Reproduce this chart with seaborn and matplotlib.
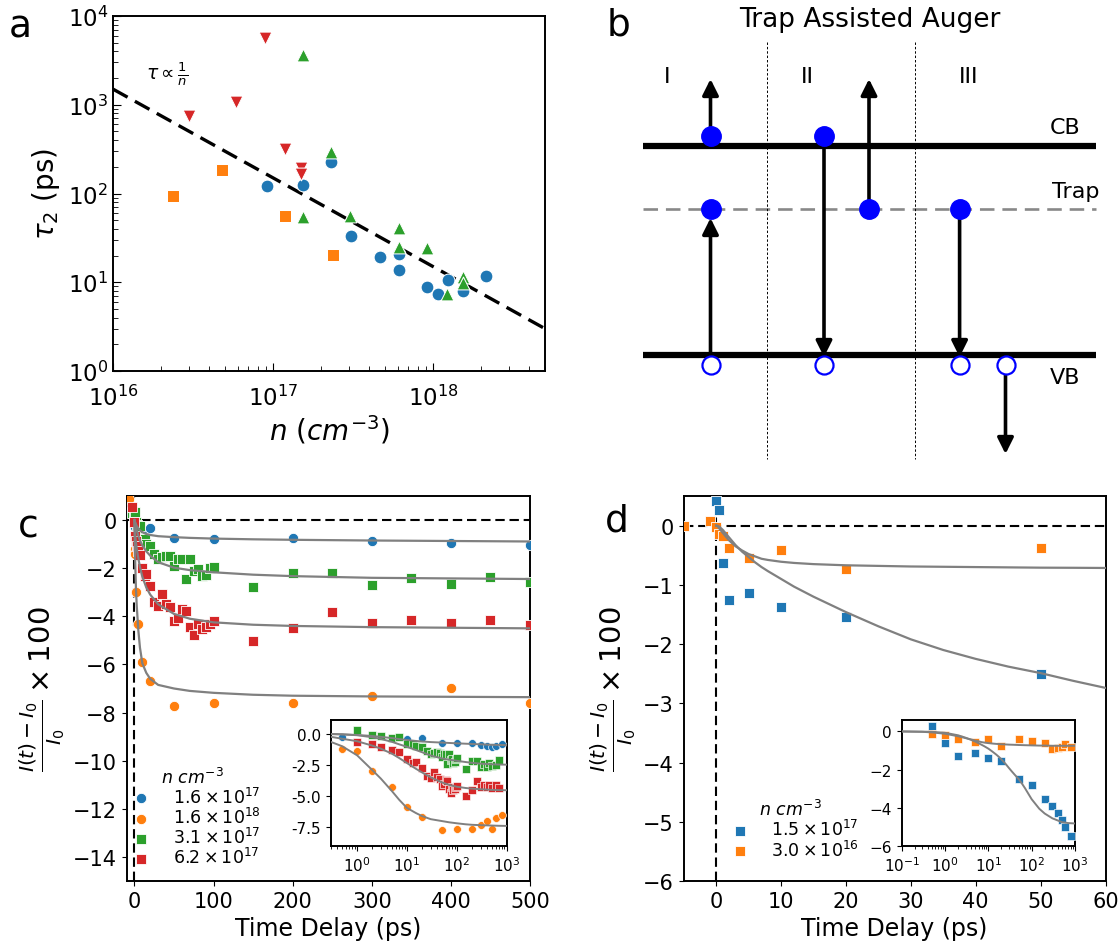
import numpy as np
import pandas as pd
import matplotlib
matplotlib.use("Agg")
import matplotlib.pyplot as plt
import seaborn as sns
from matplotlib.ticker import MultipleLocator, LogLocator, NullFormatter

plt.rcParams['font.family'] = ['DejaVu Sans']
plt.rcParams['mathtext.fontset'] = 'dejavusans'
plt.rcParams['axes.linewidth'] = 1.4

C_BLUE, C_ORANGE, C_GREEN, C_RED = '#1f77b4', '#ff7f0e', '#2ca02c', '#d62728'
FIT_GRAY = '#808080'

# ---------------- Panel a data ----------------
a_blue_n = [9.2e16, 1.53e17, 2.29e17, 3.05e17, 4.64e17, 6.1e17, 6.1e17, 9.2e17, 1.07e18, 1.23e18, 1.53e18, 2.14e18]
a_blue_tau = [122, 126, 228, 33, 19.3, 20.9, 13.9, 8.8, 7.45, 10.5, 8.05, 11.8]
a_orange_n = [2.38e16, 4.77e16, 1.19e17, 2.36e17]
a_orange_tau = [93, 183, 56, 20.2]
a_green_n = [1.53e17, 2.29e17, 1.53e17, 3.04e17, 6.1e17, 6.1e17, 9.2e17, 1.22e18, 1.53e18, 1.53e18]
a_green_tau = [3630, 290, 54.6, 56, 41, 25, 24.4, 7.45, 11.5, 9.7]
a_red_n = [8.9e16, 3.0e16, 5.9e16, 1.19e17, 1.5e17, 1.5e17]
a_red_tau = [5600, 750, 1080, 316, 195, 168]
a_line_n = [1e16, 5e18]
a_line_tau = [1500, 3]

# ---------------- Panel b (diagram) ----------------
b_level_x = [83, 536]
b_cb_y, b_trap_y, b_vb_y = 146.7, 210, 355.7
b_div_x = [207, 355]
b_div_y = [43, 460]
b_filled_x = [150.5, 150.5, 264, 309, 399.6]
b_filled_y = [136.7, 210, 136.7, 210, 210]
b_open_x = [150.5, 264, 399.6, 445.5]
b_open_y = [366, 366, 366, 366]
b_arrow_start = [(150.5, 137), (150.5, 356), (264, 140), (309, 210), (399.6, 210), (445.5, 372)]
b_arrow_end = [(150.5, 80), (150.5, 219), (264, 358), (309, 80), (399.6, 358), (445.5, 455)]
b_roman = ['I', 'II', 'III']
b_roman_x = [107.5, 247, 408.6]

# ---------------- Panel c data ----------------
c_blue_t = [-7, 0.5, 10, 20, 50, 100, 200, 300, 400, 500, 600, 800]
c_blue_y = [0.35, -0.27, -0.45, -0.33, -0.75, -0.77, -0.74, -0.88, -0.96, -1.03, -1.01, -0.85]
c_orange_t = [-7, 0.5, 1, 2, 5, 10, 20, 50, 100, 200, 300, 400, 500, 600, 800]
c_orange_y = [0.87, -1.2, -1.41, -3.0, -4.3, -5.9, -6.7, -7.72, -7.62, -7.62, -7.31, -6.97, -7.6, -6.78, -6.52]
c_gr_t = [-3, 0, 1, 2, 3, 5, 7, 10, 13, 15, 20, 25, 30, 35, 40, 45, 50, 55, 60, 65, 70,
          75, 80, 85, 90, 95, 100, 150, 200, 250, 300, 350, 400, 450, 500, 600, 700]
c_green_y = [0.3, 0.25, 0.32, -0.1, -0.21, -0.32, -0.24, -0.8, -0.79, -1.0, -1.09, -1.41, -1.62,
             -1.55, -1.48, -1.51, -1.9, -1.62, -1.6, -2.45, -1.62, -2.1, -2.04, -2.31, -2.3, -2.0,
             -1.97, -2.8, -2.18, -2.2, -2.7, -2.41, -2.66, -2.36, -2.57, -2.5, -2.13]
c_red_y = [0.55, -0.1, -0.66, -0.85, -1.06, -1.28, -1.46, -1.99, -2.31, -2.26, -2.73, -3.42, -3.56,
           -3.08, -3.49, -3.63, -4.18, -4.05, -3.7, -3.77, -4.46, -4.78, -4.3, -4.52, -4.46, -4.3,
           -4.18, -5.02, -4.5, -3.8, -4.28, -4.14, -4.28, -4.15, -4.36, -4.12, -4.39]
c_fit_t = [0, 0.3, 0.5, 1, 2, 3, 5, 7, 10, 15, 20, 30, 50, 70, 100, 150, 200, 300, 500, 700, 1000]
c_blue_fit = [0, -0.03, -0.05, -0.1, -0.18, -0.25, -0.35, -0.43, -0.5, -0.58, -0.62, -0.67, -0.71,
              -0.74, -0.77, -0.8, -0.82, -0.85, -0.89, -0.9, -0.91]
c_orange_fit = [0, -0.66, -1.0, -1.73, -2.9, -3.6, -4.6, -5.3, -5.95, -6.35, -6.6, -6.85, -7.0,
                -7.1, -7.18, -7.26, -7.3, -7.33, -7.36, -7.38, -7.39]
c_green_fit = [0, -0.02, -0.05, -0.12, -0.28, -0.42, -0.65, -0.85, -1.05, -1.3, -1.48, -1.75, -1.98,
               -2.08, -2.17, -2.27, -2.33, -2.4, -2.45, -2.47, -2.48]
c_red_fit = [0, -0.25, -0.4, -0.6, -0.95, -1.2, -1.6, -1.95, -2.35, -2.8, -3.1, -3.5, -3.9,
             -4.1, -4.25, -4.35, -4.4, -4.45, -4.5, -4.52, -4.53]
c_labels = [r'$1.6\times10^{17}$', r'$1.6\times10^{18}$', r'$3.1\times10^{17}$', r'$6.2\times10^{17}$']

# ---------------- Panel d data ----------------
d_blue_t = [0, 0.5, 1, 2, 5, 10, 20, 50, 100, 200, 300, 400, 500, 600, 800]
d_blue_y = [0.42, 0.26, -0.63, -1.26, -1.13, -1.37, -1.55, -2.5, -2.79, -3.55, -3.92, -4.26, -4.64, -4.99, -5.48]
d_orange_t = [-5, -1, 0, 0.5, 1, 2, 5, 10, 20, 50, 100, 200, 300, 400, 500, 600, 800]
d_orange_y = [0.0, 0.08, -0.03, -0.14, -0.17, -0.37, -0.55, -0.42, -0.74, -0.38, -0.49, -0.62, -0.92,
              -0.85, -0.8, -0.68, -0.83]
d_fit_t = [0, 0.1, 0.3, 0.5, 1, 2, 3, 4, 5, 6, 7, 8, 10, 12, 15, 17.5, 20, 25, 30, 35, 40, 45, 50,
           55, 60, 70, 100, 150, 200, 300, 500, 700, 1000]
d_blue_fit = [0, 0, -0.01, -0.02, -0.07, -0.2, -0.33, -0.44, -0.53, -0.62, -0.7, -0.77, -0.9, -1.03,
              -1.2, -1.33, -1.46, -1.7, -1.92, -2.1, -2.25, -2.38, -2.49, -2.62, -2.74, -2.97, -3.55,
              -4.05, -4.3, -4.55, -4.75, -4.8, -4.82]
d_orange_fit = [0, 0, -0.02, -0.05, -0.12, -0.25, -0.35, -0.42, -0.48, -0.52, -0.56, -0.58, -0.61,
                -0.63, -0.65, -0.66, -0.67, -0.68, -0.69, -0.695, -0.7, -0.705, -0.71, -0.712, -0.715,
                -0.72, -0.73, -0.74, -0.74, -0.75, -0.75, -0.75, -0.75]
d_labels = [r'$1.5\times10^{17}$', r'$3.0\times10^{16}$']

YLABEL = r'$\frac{I(t)-I_0}{I_0}\times100$'

# ---------------- Figure ----------------
W, H = 1120, 953
fig = plt.figure(figsize=(W / 100, H / 100), dpi=100)


def rect(l, t, r, b):
    return [l / W, 1 - b / H, (r - l) / W, (b - t) / H]


# ===== Panel a =====
ax_a = fig.add_axes(rect(113, 17, 545, 372))
ax_a.set_xscale('log')
ax_a.set_yscale('log')
sns.lineplot(x=a_line_n, y=a_line_tau, color='k', lw=2.4, linestyle=(0, (5, 2.5)), ax=ax_a, zorder=2)
for xs, ys, col, mk in [(a_blue_n, a_blue_tau, C_BLUE, 'o'), (a_orange_n, a_orange_tau, C_ORANGE, 's'),
                        (a_green_n, a_green_tau, C_GREEN, '^'), (a_red_n, a_red_tau, C_RED, 'v')]:
    sns.scatterplot(x=xs, y=ys, color=col, marker=mk, s=85, ax=ax_a, zorder=3)
ax_a.set_xlim(1e16, 5e18)
ax_a.set_ylim(1, 1e4)
ax_a.tick_params(which='both', direction='in', labelsize=16.5)
ax_a.tick_params(which='major', length=6)
ax_a.tick_params(which='minor', length=3.5)
ax_a.tick_params(axis='x', which='major', pad=10)
ax_a.set_ylabel(r'$\tau_2$ (ps)', fontsize=20)
ax_a.set_xlabel(r'$n\ (cm^{-3})$', fontsize=20, labelpad=2)
ax_a.text(1.6e16, 2250, r'$\tau \propto \frac{1}{n}$', fontsize=13.5, ha='left', va='center')

# ===== Panel b =====
ax_b = fig.add_axes(rect(560, 0, 1120, 460))
ax_b.set_xlim(0, 560)
ax_b.set_ylim(460, 0)
ax_b.axis('off')
ax_b.plot(b_level_x, [b_cb_y, b_cb_y], color='k', lw=4.5, solid_capstyle='butt')
ax_b.plot(b_level_x, [b_vb_y, b_vb_y], color='k', lw=4.5, solid_capstyle='butt')
ax_b.plot(b_level_x, [b_trap_y, b_trap_y], color='#888888', lw=1.9, linestyle=(0, (5.5, 3)))
for xv in b_div_x:
    ax_b.plot([xv, xv], b_div_y, color='k', lw=0.7, linestyle=(0, (2.5, 2)), clip_on=False)
for s0, e0 in zip(b_arrow_start, b_arrow_end):
    ax_b.annotate('', xy=e0, xytext=s0,
                  arrowprops=dict(arrowstyle='-|>', color='k', lw=2.6, mutation_scale=24,
                                  shrinkA=0, shrinkB=0), zorder=3)
ax_b.plot(b_filled_x, b_filled_y, 'o', color='#0000ff', ms=14, zorder=5, ls='none')
ax_b.plot(b_open_x, b_open_y, 'o', mfc='white', mec='#0000ff', mew=1.6, ms=13, zorder=5, ls='none')
ax_b.text(310, 20, 'Trap Assisted Auger', fontsize=19, ha='center', va='center')
for lab, xv in zip(b_roman, b_roman_x):
    ax_b.text(xv, 77, lab, fontsize=16, ha='center', va='center')
ax_b.text(505, 128, 'CB', fontsize=16, ha='center', va='center')
ax_b.text(516, 192, 'Trap', fontsize=16, ha='center', va='center')
ax_b.text(505, 378, 'VB', fontsize=16, ha='center', va='center')

# ===== Panel c =====
ax_c = fig.add_axes(rect(126.5, 497, 530, 882))
dash = (0, (4.5, 2.3))
ax_c.axhline(0, color='k', lw=1.5, linestyle=dash, zorder=1)
ax_c.axvline(0, color='k', lw=1.5, linestyle=dash, zorder=1)
series_c = [(c_blue_t, c_blue_y, C_BLUE, 'o', c_blue_fit),
            (c_orange_t, c_orange_y, C_ORANGE, 'o', c_orange_fit),
            (c_gr_t, c_green_y, C_GREEN, 's', c_green_fit),
            (c_gr_t, c_red_y, C_RED, 's', c_red_fit)]
for (xs, ys, col, mk, fit), lab in zip(series_c, c_labels):
    sns.scatterplot(x=xs, y=ys, color=col, marker=mk, s=55, ax=ax_c, zorder=3, label=lab)
for (xs, ys, col, mk, fit) in series_c:
    sns.lineplot(x=c_fit_t, y=fit, color=FIT_GRAY, lw=1.6, ax=ax_c, zorder=4, legend=False)
ax_c.set_xlim(-10, 500)
ax_c.set_ylim(-15, 1)
ax_c.yaxis.set_major_locator(MultipleLocator(2))
ax_c.xaxis.set_major_locator(MultipleLocator(100))
ax_c.tick_params(labelsize=15)
ax_c.set_xlabel('Time Delay (ps)', fontsize=17)
ax_c.set_ylabel(YLABEL, fontsize=21)
hc, lc = ax_c.get_legend_handles_labels()
ax_c.legend(hc[:4], lc[:4], title=r'$n\ cm^{-3}$', loc='lower left', bbox_to_anchor=(-0.045, -0.005),
            frameon=False, fontsize=12.5, title_fontsize=12.5, labelspacing=0.0, handletextpad=0.8)

# inset c
ax_ci = fig.add_axes(rect(331, 721, 506.7, 847))
ax_ci.set_xscale('log')
for (xs, ys, col, mk, fit) in series_c:
    xp = [x for x in xs if x > 0]
    yp = [y for x, y in zip(xs, ys) if x > 0]
    sns.scatterplot(x=xp, y=yp, color=col, marker=mk, s=32, ax=ax_ci, zorder=3, legend=False)
    sns.lineplot(x=c_fit_t[1:], y=fit[1:], color=FIT_GRAY, lw=1.4, ax=ax_ci, zorder=4, legend=False)
ax_ci.set_xlim(0.3, 1000)
ax_ci.set_ylim(-9.0, 1.1)
ax_ci.yaxis.set_major_locator(MultipleLocator(2.5))
ax_ci.yaxis.set_major_formatter(plt.FormatStrFormatter('%.1f'))
ax_ci.xaxis.set_major_locator(LogLocator(base=10, numticks=10))
ax_ci.xaxis.set_minor_locator(LogLocator(base=10, subs=np.arange(2, 10), numticks=20))
ax_ci.xaxis.set_minor_formatter(NullFormatter())
ax_ci.tick_params(labelsize=11)
ax_ci.set_xlabel('')
ax_ci.set_ylabel('')

# ===== Panel d =====
ax_d = fig.add_axes(rect(683.7, 497, 1105.5, 882))
ax_d.axhline(0, color='k', lw=1.5, linestyle=dash, zorder=1)
ax_d.axvline(0, color='k', lw=1.5, linestyle=dash, zorder=1)
series_d = [(d_blue_t, d_blue_y, C_BLUE, d_blue_fit), (d_orange_t, d_orange_y, C_ORANGE, d_orange_fit)]
for (xs, ys, col, fit), lab in zip(series_d, d_labels):
    sns.scatterplot(x=xs, y=ys, color=col, marker='s', s=58, ax=ax_d, zorder=3, label=lab)
for (xs, ys, col, fit) in series_d:
    sns.lineplot(x=d_fit_t, y=fit, color=FIT_GRAY, lw=1.6, ax=ax_d, zorder=4, legend=False)
ax_d.set_xlim(-5, 60)
ax_d.set_ylim(-6, 0.5)
ax_d.yaxis.set_major_locator(MultipleLocator(1))
ax_d.xaxis.set_major_locator(MultipleLocator(10))
ax_d.tick_params(labelsize=15)
ax_d.set_xlabel('Time Delay (ps)', fontsize=17)
ax_d.set_ylabel(YLABEL, fontsize=21)
hd, ld = ax_d.get_legend_handles_labels()
ax_d.legend(hd[:2], ld[:2], title=r'$n\ cm^{-3}$', loc='lower left', bbox_to_anchor=(0.055, 0.015),
            frameon=False, fontsize=12.5, title_fontsize=12.5, labelspacing=0.0, handletextpad=0.8)

# inset d
ax_di = fig.add_axes(rect(901.7, 721, 1075, 847))
ax_di.set_xscale('log')
for (xs, ys, col, fit) in series_d:
    xp = [x for x in xs if x > 0]
    yp = [y for x, y in zip(xs, ys) if x > 0]
    sns.scatterplot(x=xp, y=yp, color=col, marker='s', s=34, ax=ax_di, zorder=3, legend=False)
    sns.lineplot(x=d_fit_t[1:], y=fit[1:], color=FIT_GRAY, lw=1.4, ax=ax_di, zorder=4, legend=False)
ax_di.set_xlim(0.1, 1000)
ax_di.set_ylim(-6, 0.6)
ax_di.yaxis.set_major_locator(MultipleLocator(2))
ax_di.xaxis.set_major_locator(LogLocator(base=10, numticks=10))
ax_di.xaxis.set_minor_locator(LogLocator(base=10, subs=np.arange(2, 10), numticks=20))
ax_di.xaxis.set_minor_formatter(NullFormatter())
ax_di.tick_params(labelsize=11)
ax_di.set_xlabel('')
ax_di.set_ylabel('')

# panel letters
for lab, x, y in [('a', 20, 28), ('b', 619, 25), ('c', 28, 527), ('d', 617, 522)]:
    fig.text(x / W, 1 - y / H, lab, fontsize=27, ha='center', va='center')

fig.savefig('out.png', dpi=100)
